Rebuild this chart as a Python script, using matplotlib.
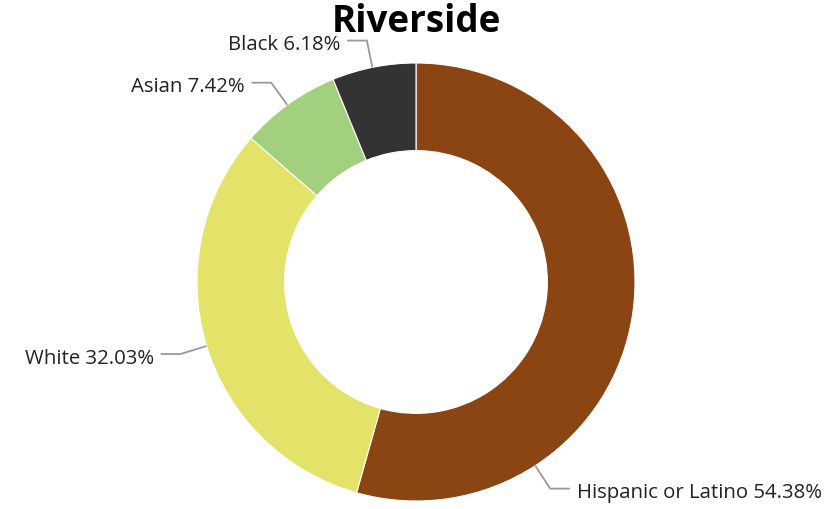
import numpy as np
import matplotlib
matplotlib.use("Agg")
import matplotlib.pyplot as plt

plt.rcParams['font.family'] = ['Open Sans', 'DejaVu Sans']

# data
groups = ['Hispanic or Latino', 'White', 'Asian', 'Black']
shares = [54.38, 32.03, 7.42, 6.18]
colors = ['#8B4513', '#E3E36A', '#A2D07F', '#333333']

# where each leader line leaves the ring (degrees, counter-clockwise from east)
leader_angles = [-57, -163, 126, 101.5]

fig = plt.figure(figsize=(8.4, 5.1), dpi=100)
cx, cy, r = 416, 283, 219
ax = fig.add_axes([(cx - r) / 840, (510 - cy - r) / 510, 2 * r / 840, 2 * r / 510])

ax.pie(shares, colors=colors, startangle=90, counterclock=False, radius=1,
       wedgeprops=dict(width=0.4, edgecolor='white', linewidth=0.8))
ax.set_xlim(-1, 1)
ax.set_ylim(-1, 1)
ax.set_aspect('equal')
ax.axis('off')

for name, val, ang in zip(groups, shares, leader_angles):
    a = np.deg2rad(ang)
    x0, y0 = np.cos(a) * 1.0, np.sin(a) * 1.0
    x1, y1 = np.cos(a) * 1.125, np.sin(a) * 1.125
    side = 1 if np.cos(a) > 0 else -1
    x2 = x1 + side * 0.09
    ax.plot([x0, x1, x2], [y0, y1, y1], color='#999999', lw=1.3,
            clip_on=False, solid_capstyle='butt')
    ax.text(x2 + side * 0.032, y1 - 0.016, f'{name} {val:.2f}%', fontsize=14.7,
            color='#222222', ha='left' if side > 0 else 'right', va='center',
            clip_on=False)

fig.text(416 / 840, 1 - 22 / 510, 'Riverside', fontsize=26.5, fontweight='bold',
         ha='center', va='center', color='black')

fig.savefig('out.png', dpi=100, facecolor='white')
